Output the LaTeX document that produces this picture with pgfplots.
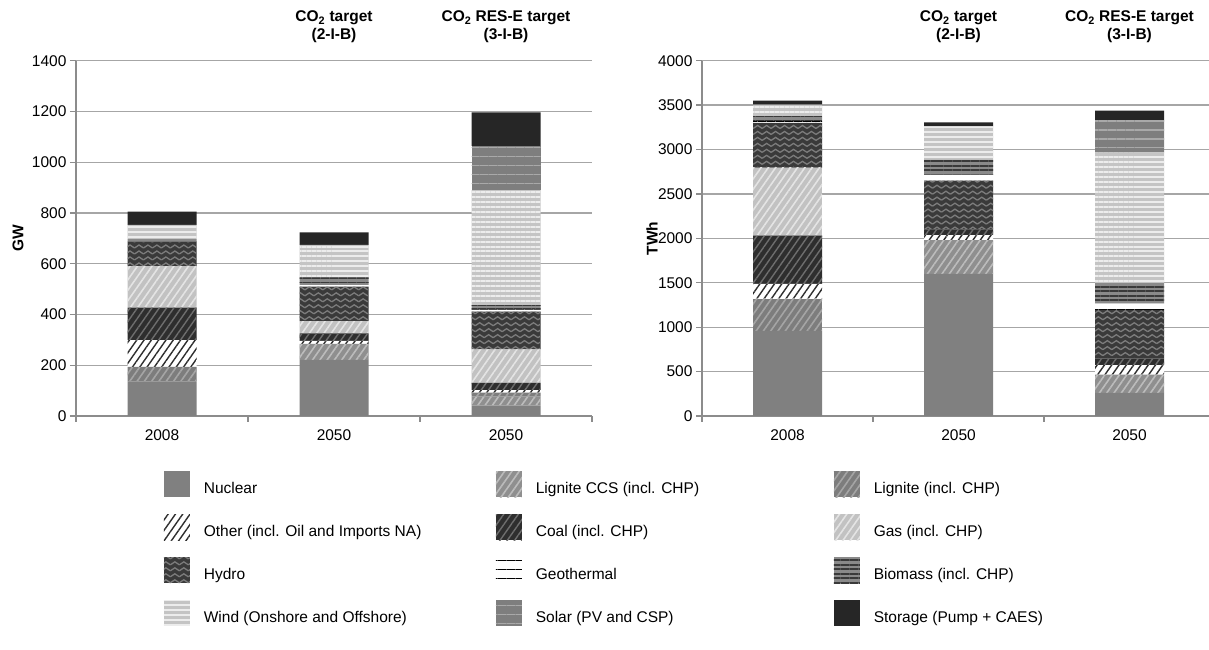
\documentclass[border=0pt]{standalone}
\usepackage{fontspec}
\setmainfont{Liberation Sans}
\usepackage{pgfplots}
\usepackage{pgfplotstable}
\pgfplotsset{compat=1.18}
\usetikzlibrary{patterns,patterns.meta}

\newcommand\fs{\fontsize{15.5bp}{18bp}\selectfont}

\definecolor{axisgrey}{HTML}{8C8C8C}
\definecolor{gridgrey}{HTML}{A6A6A6}
\definecolor{cNuc}{HTML}{808080}
\definecolor{cLigCCS}{HTML}{8F8F8F}
\definecolor{cLigCCSl}{HTML}{BCBCBC}
\definecolor{cLig}{HTML}{7D7D7D}
\definecolor{cLigl}{HTML}{A5A5A5}
\definecolor{cOthl}{HTML}{2E2E2E}
\definecolor{cCoal}{HTML}{2E2E2E}
\definecolor{cCoall}{HTML}{6E6E6E}
\definecolor{cGas}{HTML}{C2C2C2}
\definecolor{cGasl}{HTML}{E4E4E4}
\definecolor{cHyd}{HTML}{3A3A3A}
\definecolor{cHydl}{HTML}{7C7C7C}
\definecolor{cBio}{HTML}{8A8A8A}
\definecolor{cBiol}{HTML}{3A3A3A}
\definecolor{cWind}{HTML}{C4C4C4}
\definecolor{cWindl}{HTML}{ECECEC}
\definecolor{cSol}{HTML}{7E7E7E}
\definecolor{cSoll}{HTML}{A9A9A9}
\definecolor{cSto}{HTML}{262626}

\pgfdeclarepatternformonly{zigzag}{\pgfqpoint{-1pt}{-1pt}}{\pgfqpoint{10pt}{7pt}}{\pgfqpoint{9pt}{6pt}}{%
  \pgfsetlinewidth{1.3pt}%
  \pgfpathmoveto{\pgfqpoint{0pt}{1.5pt}}%
  \pgfpathlineto{\pgfqpoint{4.5pt}{4.5pt}}%
  \pgfpathlineto{\pgfqpoint{9pt}{1.5pt}}%
  \pgfusepath{stroke}%
}

\pgfplotsset{
  sq legend/.style={legend image code/.code={\path[##1,draw=none] (0bp,-8.5bp) rectangle (26bp,17.5bp);}},
  sNuc/.style={fill=cNuc, draw=none, sq legend},
  sLigCCS/.style={fill=cLigCCS, draw=none, postaction={pattern={Lines[angle=55,distance=6pt,line width=1.6pt]}, pattern color=cLigCCSl}, sq legend},
  sLig/.style={fill=cLig, draw=none, postaction={pattern={Lines[angle=55,distance=6pt,line width=1.6pt]}, pattern color=cLigl}, sq legend},
  sOth/.style={fill=white, draw=none, postaction={pattern={Lines[angle=55,distance=6pt,line width=1.4pt]}, pattern color=cOthl}, sq legend},
  sCoal/.style={fill=cCoal, draw=none, postaction={pattern={Lines[angle=55,distance=6pt,line width=1.4pt]}, pattern color=cCoall}, sq legend},
  sGas/.style={fill=cGas, draw=none, postaction={pattern={Lines[angle=55,distance=6pt,line width=1.6pt]}, pattern color=cGasl}, sq legend},
  sHyd/.style={fill=cHyd, draw=none, postaction={pattern=zigzag, pattern color=cHydl}, sq legend},
  sGeo/.style={fill=white, draw=none, postaction={pattern={Lines[angle=0,distance=9pt,line width=1.2pt]}, pattern color=black}, sq legend},
  sBio/.style={fill=cBio, draw=none, postaction={pattern={Lines[angle=0,distance=4.5pt,line width=1.7pt]}, pattern color=cBiol}, sq legend},
  sWind/.style={fill=cWind, draw=none, postaction={pattern={Lines[angle=0,distance=5pt,line width=2pt]}, pattern color=cWindl}, sq legend},
  sSol/.style={fill=cSol, draw=none, postaction={pattern={Lines[angle=0,distance=9pt,line width=1.2pt]}, pattern color=cSoll}, sq legend},
  sSto/.style={fill=cSto, draw=none, sq legend},
  myaxis/.style={
    scale only axis,
    ybar stacked, bar width=69bp,
    xmin=-0.5,
    ymin=0,
    height=355.3bp,
    xtick={0,1,2}, xticklabels={2008,2050,2050},
    minor xtick={-0.5,0.5,1.5,2.5},
    axis x line*=bottom, axis y line*=left,
    axis line style={draw=axisgrey, line width=1.8bp, -},
    ymajorgrids, major grid style={draw=gridgrey, line width=1.3bp},
    tick align=outside,
    major x tick style={draw=none},
    minor tick length=6bp, major tick length=6bp,
    minor x tick style={draw=axisgrey, line width=1.3bp},
    ytick style={draw=axisgrey, line width=1.3bp},
    tick label style={font=\fs},
    xticklabel style={yshift=-4bp},
    /pgf/number format/assume math mode=true,
    /pgf/number format/1000 sep={},
    clip=false,
    every axis y label/.style={at={(axis description cs:0,0.5)}, rotate=90, anchor=center, font=\fs\bfseries},
  },
}

\pgfplotstableread{
x nuc ligccs lig oth coal gas hyd geo bio wind sol sto
0 135 0 59 105 128 164 97 1 8 56 0 52
1 221 63 0 12 30 48 136 6 30 128 0 50
2 41 35 16 10 29 132 148 9 17 453 174 132
}\gwdata

\pgfplotstableread{
x nuc ligccs lig oth coal gas hyd geo bio wind sol sto
0 957 0 363 168 542 766 505 19 56 125 6 44
1 1600 381 0 56 64 0 549 67 170 374 0 44
2 261 206 0 105 75 0 549 68 231 1469 366 109
}\twhdata

\begin{document}
\begin{tikzpicture}
\path[use as bounding box] (0bp,0bp) rectangle (1209bp,650bp);

\begin{axis}[myaxis,
  at={(76bp,234bp)}, anchor=south west,
  width=516bp, xmax=2.5,
  ymax=1400, ytick={0,200,...,1400},
  ylabel={GW}, ylabel style={yshift=58bp},
  legend columns=3,
  legend cell align=left,
  legend style={at={(axis description cs:0.1702,-0.155)}, anchor=north west,
    draw=none, fill=none, inner sep=0pt, outer sep=0pt, row sep=17bp,
    font=\fs, nodes={inner sep=0pt},
    /tikz/every odd column/.append style={column sep=14bp}},
]
\addplot[sNuc] table[x=x,y=nuc]{\gwdata};
\addlegendentry{\makebox[292bp][l]{Nuclear}}
\addplot[sLigCCS] table[x=x,y=ligccs]{\gwdata};
\addlegendentry{\makebox[298bp][l]{Lignite CCS (incl. CHP)}}
\addplot[sLig] table[x=x,y=lig]{\gwdata};
\addlegendentry{\makebox[200bp][l]{Lignite (incl. CHP)}}
\addplot[sOth] table[x=x,y=oth]{\gwdata};
\addlegendentry{\makebox[292bp][l]{Other (incl. Oil and Imports NA)}}
\addplot[sCoal] table[x=x,y=coal]{\gwdata};
\addlegendentry{\makebox[298bp][l]{Coal (incl. CHP)}}
\addplot[sGas] table[x=x,y=gas]{\gwdata};
\addlegendentry{\makebox[200bp][l]{Gas (incl. CHP)}}
\addplot[sHyd] table[x=x,y=hyd]{\gwdata};
\addlegendentry{\makebox[292bp][l]{Hydro}}
\addplot[sGeo] table[x=x,y=geo]{\gwdata};
\addlegendentry{\makebox[298bp][l]{Geothermal}}
\addplot[sBio] table[x=x,y=bio]{\gwdata};
\addlegendentry{\makebox[200bp][l]{Biomass (incl. CHP)}}
\addplot[sWind] table[x=x,y=wind]{\gwdata};
\addlegendentry{\makebox[292bp][l]{Wind (Onshore and Offshore)}}
\addplot[sSol] table[x=x,y=sol]{\gwdata};
\addlegendentry{\makebox[298bp][l]{Solar (PV and CSP)}}
\addplot[sSto] table[x=x,y=sto]{\gwdata};
\addlegendentry{\makebox[200bp][l]{Storage (Pump + CAES)}}
\node[font=\fs\bfseries, align=center, yshift=34bp] at (axis cs:1,1400) {CO\textsubscript{2} target\\(2-I-B)};
\node[font=\fs\bfseries, align=center, yshift=34bp] at (axis cs:2,1400) {CO\textsubscript{2} RES-E target\\(3-I-B)};
\end{axis}

\begin{axis}[myaxis,
  at={(702bp,234bp)}, anchor=south west,
  width=507bp, xmax=2.465,
  ymax=4000, ytick={0,500,...,4000},
  ylabel={TWh}, ylabel style={yshift=50bp},
]
\addplot[sNuc] table[x=x,y=nuc]{\twhdata};
\addplot[sLigCCS] table[x=x,y=ligccs]{\twhdata};
\addplot[sLig] table[x=x,y=lig]{\twhdata};
\addplot[sOth] table[x=x,y=oth]{\twhdata};
\addplot[sCoal] table[x=x,y=coal]{\twhdata};
\addplot[sGas] table[x=x,y=gas]{\twhdata};
\addplot[sHyd] table[x=x,y=hyd]{\twhdata};
\addplot[sGeo] table[x=x,y=geo]{\twhdata};
\addplot[sBio] table[x=x,y=bio]{\twhdata};
\addplot[sWind] table[x=x,y=wind]{\twhdata};
\addplot[sSol] table[x=x,y=sol]{\twhdata};
\addplot[sSto] table[x=x,y=sto]{\twhdata};
\node[font=\fs\bfseries, align=center, yshift=34bp] at (axis cs:1,4000) {CO\textsubscript{2} target\\(2-I-B)};
\node[font=\fs\bfseries, align=center, yshift=34bp] at (axis cs:2,4000) {CO\textsubscript{2} RES-E target\\(3-I-B)};
\end{axis}
\end{tikzpicture}
\end{document}
